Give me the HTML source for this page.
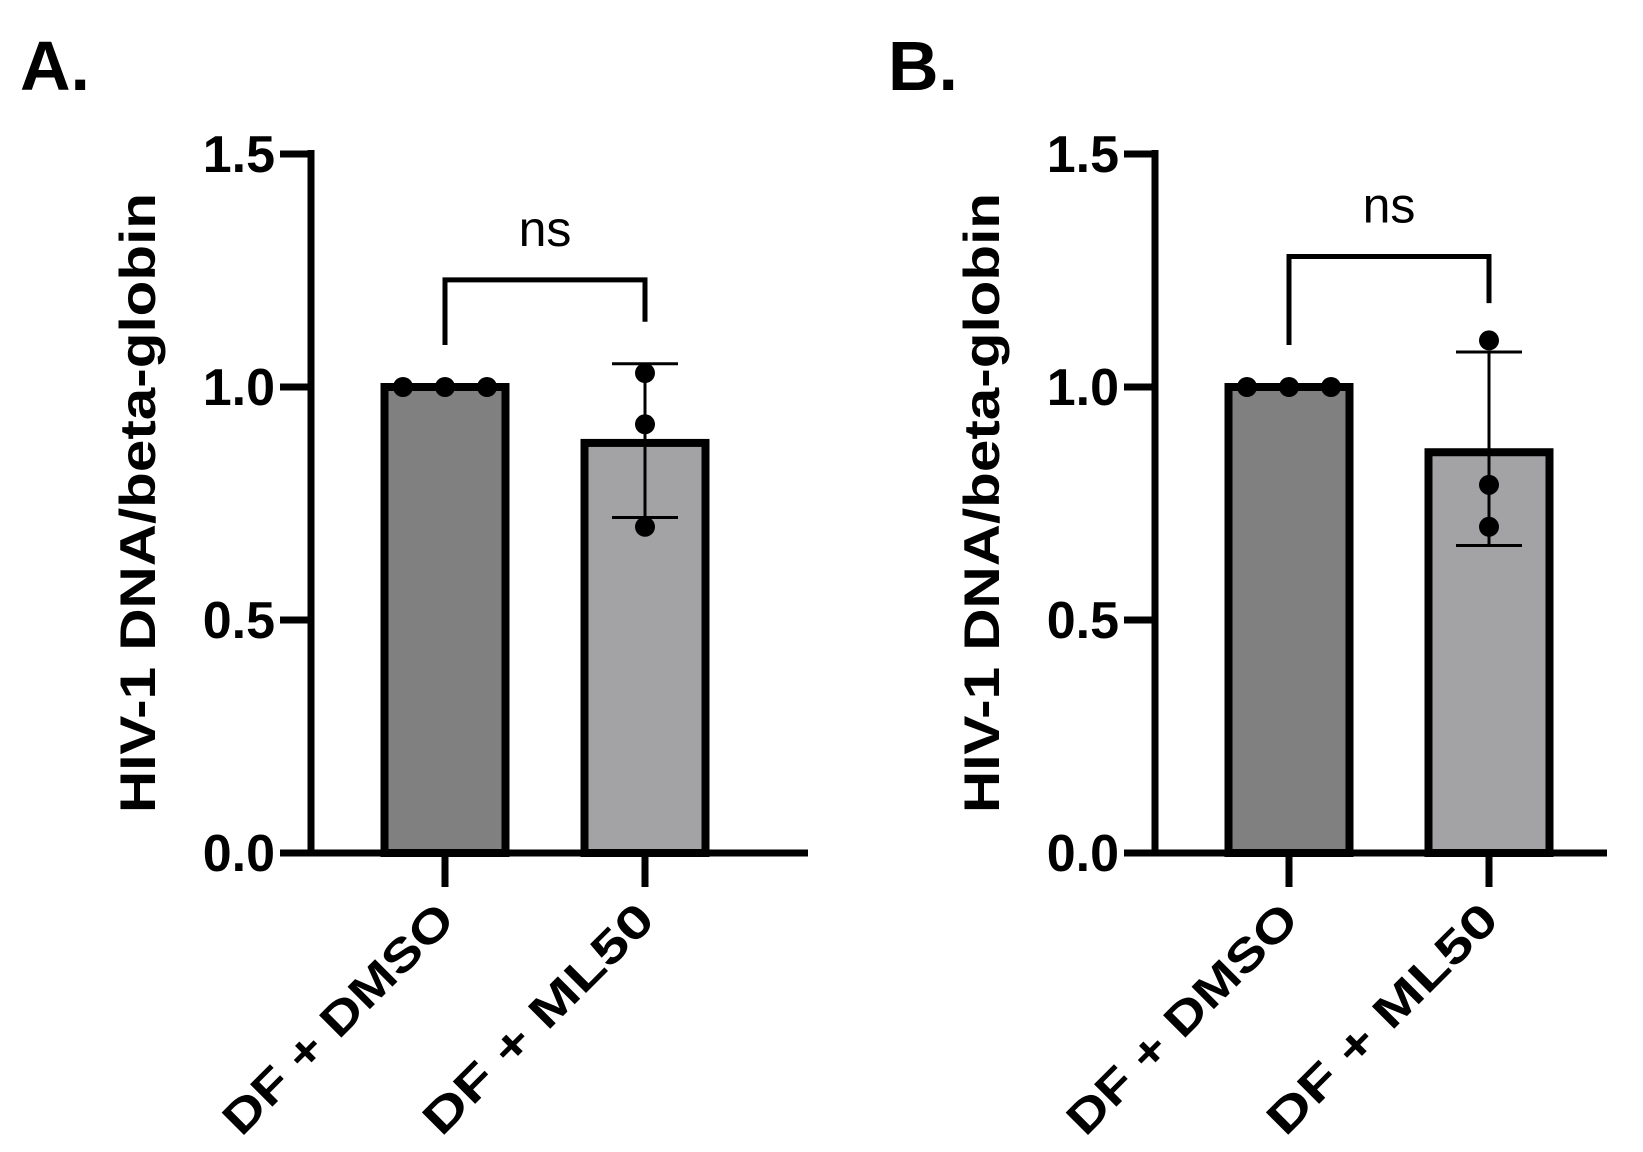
<!DOCTYPE html>
<html><head><meta charset="utf-8"><style>
html,body{margin:0;padding:0;background:#fff;}
svg{display:block;font-family:"Liberation Sans",sans-serif;}
</style></head><body>
<svg id="chart" width="1643" height="1152" viewBox="0 0 1643 1152">
<text x="20" y="90" font-size="70" font-weight="bold">A.</text>
<text x="888" y="90" font-size="70" font-weight="bold">B.</text>
</svg>
<script>
const categories = ["DF + DMSO", "DF + ML50"];
const yTicks = [0, 0.5, 1.0, 1.5];
const yTickLabels = ["0.0", "0.5", "1.0", "1.5"];
const meansA = [1.0, 0.88];
const errLowA = [1.0, 0.72];
const errHighA = [1.0, 1.05];
const pointsA = [[1.0, 1.0, 1.0], [1.03, 0.92, 0.70]];
const meansB = [1.0, 0.86];
const errLowB = [1.0, 0.66];
const errHighB = [1.0, 1.075];
const pointsB = [[1.0, 1.0, 1.0], [1.10, 0.79, 0.70]];
const sigLabel = "ns";
const bracketA = {top: 1.23, left: 1.09, right: 1.14};
const bracketB = {top: 1.28, left: 1.09, right: 1.18};

const svg = document.getElementById('chart');
const NS = 'http://www.w3.org/2000/svg';
function mk(tag, attrs, parent) {
  const e = document.createElementNS(NS, tag);
  for (const k in attrs) e.setAttribute(k, attrs[k]);
  (parent || svg).appendChild(e);
  return e;
}
function panel(p, axisX, xEnd, centers, means, lo, hi, pts, br) {
  const g = mk('g', {});
  
  
  const y0 = 853, yPer = (853 - 154) / 1.5;
  const y = v => y0 - v * yPer;
  const fills = ['#808080', '#a3a3a6'];
  const bw = 121;
  centers.forEach((cx, i) => {
    const r = mk('rect', {x: cx - bw / 2, y: y(means[i]), width: bw, height: y0 - y(means[i]), fill: fills[i], stroke: '#000', 'stroke-width': 8}, g);
    
    
    if (hi[i] !== lo[i]) {
      const eb = mk('g', {stroke: '#000', 'stroke-width': 3}, g);
      
      
      mk('line', {x1: cx, x2: cx, y1: y(lo[i]), y2: y(hi[i])}, eb);
      mk('line', {x1: cx - 33, x2: cx + 33, y1: y(lo[i]), y2: y(lo[i])}, eb);
      mk('line', {x1: cx - 33, x2: cx + 33, y1: y(hi[i]), y2: y(hi[i])}, eb);
    }
    pts[i].forEach((v, j) => {
      const off = (hi[i] === lo[i]) ? (j - 1) * 42 : 0;
      const c = mk('circle', {cx: cx + off, cy: y(v), r: 10, fill: '#000'}, g);
      
      
    });
    const t = mk('line', {x1: cx, x2: cx, y1: y0, y2: 887, stroke: '#000', 'stroke-width': 7}, g);
    
    
    const lb = mk('text', {x: cx + 12, y: 922, 'font-size': 46, 'font-weight': 'bold', 'text-anchor': 'end', transform: `rotate(-45 ${cx + 12} 922)`, textLength: 305, lengthAdjust: 'spacingAndGlyphs'}, g);
    lb.textContent = categories[i];
    
    
  });
  const ax = mk('path', {d: `M${axisX} 150 V${y0} M${axisX - 31} ${y0} H${xEnd}`, stroke: '#000', 'stroke-width': 7, fill: 'none'}, g);
  
  
  yTicks.forEach((v, i) => {
    const tk = mk('line', {x1: axisX - 31, x2: axisX, y1: y(v), y2: y(v), stroke: '#000', 'stroke-width': 7}, g);
    
    
    const tl = mk('text', {x: axisX - 36, y: y(v) + 18, 'font-size': 52, 'font-weight': 'bold', 'text-anchor': 'end'}, g);
    tl.textContent = yTickLabels[i];
    
    
  });
  const ty = 503, tx = axisX - 156;
  const tt = mk('text', {x: tx, y: ty, 'font-size': 50, 'font-weight': 'bold', 'text-anchor': 'middle', transform: `rotate(-90 ${tx} ${ty})`, textLength: 620, lengthAdjust: 'spacingAndGlyphs'}, g);
  tt.textContent = 'HIV-1 DNA/beta-globin';
  
  
  const b = mk('path', {d: `M${centers[0]} ${y(br.left)} V${y(br.top)} H${centers[1]} V${y(br.right)}`, stroke: '#000', 'stroke-width': 5, fill: 'none'}, g);
  
  
  const ns = mk('text', {x: (centers[0] + centers[1]) / 2, y: y(br.top) - 34, 'font-size': 50, 'text-anchor': 'middle'}, g);
  ns.textContent = sigLabel;
  
  
}
panel('a', 311, 808, [445, 645], meansA, errLowA, errHighA, pointsA, bracketA);
panel('b', 1155, 1607, [1289, 1489], meansB, errLowB, errHighB, pointsB, bracketB);
</script>
</body></html>
